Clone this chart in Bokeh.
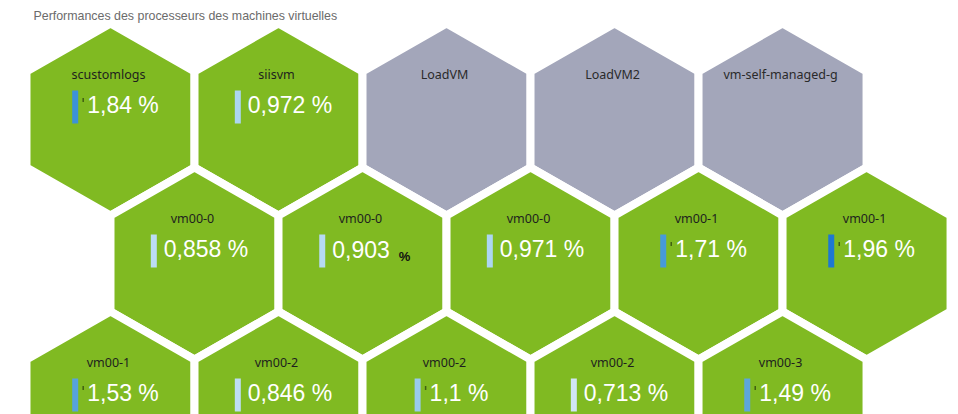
import numpy as np
from bokeh.plotting import figure
from bokeh.models import Range1d, ColumnDataSource, LinearColorMapper
from bokeh.transform import transform
from bokeh.util.hex import axial_to_cartesian
from bokeh.core.properties import value
from bokeh.embed import file_html
from bokeh.resources import INLINE

# ---------------- data ----------------
title = "Performances des processeurs des machines virtuelles"
names = ["scustomlogs", "siisvm", "LoadVM", "LoadVM2", "vm-self-managed-g",
         "vm00-0", "vm00-0", "vm00-0", "vm00-1", "vm00-1",
         "vm00-1", "vm00-2", "vm00-2", "vm00-2", "vm00-3"]
cpu = [1.84, 0.972, np.nan, np.nan, np.nan,
       0.858, 0.903, 0.971, 1.71, 1.96,
       1.53, 0.846, 1.1, 0.713, 1.49]
labels = ["1,84 %", "0,972 %", "", "", "",
          "0,858 %", "0,903", "0,971 %", "1,71 %", "1,96 %",
          "1,53 %", "0,846 %", "1,1 %", "0,713 %", "1,49 %"]
small_unit = [False, False, False, False, False,
              False, True, False, False, False,
              False, False, False, False, False]
q = [0, 1, 2, 3, 4, 0, 1, 2, 3, 4, -1, 0, 1, 2, 3]
r = [0, 0, 0, 0, 0, 1, 1, 1, 1, 1, 2, 2, 2, 2, 2]

# ---------------- layout ----------------
SIZE = 97
W, H = 958, 414
PX, PY = 0, 0              # page position of the figure
OX, OY = 110, 119          # page position of tile (0,0)
K = 144 / 145.5            # px per data unit vertically

GREEN = "#80ba22"
GRAY = "#a3a6ba"

x_range = Range1d(PX - OX, PX + W - OX)
y_range = Range1d((OY - (PY + H)) / K, (OY - PY) / K)

p = figure(width=W, height=H, x_range=x_range, y_range=y_range,
           output_backend="svg", toolbar_location=None,
           x_axis_location=None, y_axis_location=None,
           min_border=0, outline_line_color=None)
p.grid.visible = False
p.background_fill_color = "white"
p.border_fill_color = "white"

cpu_arr = np.array(cpu, dtype=float)
has_val = ~np.isnan(cpu_arr)
fills = [GREEN if h else GRAY for h in has_val]

tiles = ColumnDataSource(dict(q=q, r=r, fill=fills))
p.hex_tile(q="q", r="r", size=SIZE, orientation="pointytop", source=tiles,
           fill_color="fill", line_color="white", line_width=8,
           line_join="miter")

cx, cy = axial_to_cartesian(np.array(q), np.array(r), SIZE, "pointytop")

# name labels
name_col = ["#1e1e1e" if h else "#2a2a2a" for h in has_val]
p.text(x=cx - 2, y=cy + 45 / K, text=names, text_align="center",
       text_baseline="middle", text_font=value("Noto Sans"),
       text_font_size="12.5px", text_color=name_col)

# value group: bar + (tick) + value text
AW = {c: 0.556 for c in "0123456789"}
AW.update({",": 0.278, " ": 0.278, "%": 0.889})

def tw(s, fs):
    return sum(AW.get(c, 0.556) for c in s) * fs

FS = 23
bx, by, bv, tx, ty, tt = [], [], [], [], [], []
kx, ky = [], []
ux, uy = [], []
for i in range(len(names)):
    if not has_val[i]:
        continue
    tick = cpu_arr[i] >= 1.0
    gap = 9 if tick else 7
    wtxt = tw(labels[i], FS)
    extra = 20 if small_unit[i] else 0
    group = 6 + gap + wtxt + extra
    left = cx[i] + (2 if small_unit[i] else 5) - group / 2
    bx.append(left + 3)
    by.append(cy[i] + 12.5 / K)
    bv.append(cpu_arr[i])
    tx.append(left + 6 + gap)
    ty.append(cy[i] + 14.5 / K)
    tt.append(labels[i])
    if tick:
        kx.append(left + 6 + 5)
        ky.append(cy[i] + 19.5 / K)
    if small_unit[i]:
        ux.append(left + 6 + gap + wtxt + 9)
        uy.append(cy[i] + 7.5 / K)

# colour scale for bars
stops_v = [0.7, 1.0, 1.5, 1.85, 2.0]
stops_c = np.array([(210, 231, 246), (168, 212, 242), (90, 165, 220),
                    (59, 146, 216), (21, 112, 208)], dtype=float)
grid = np.linspace(0.7, 2.0, 256)
palette = ["#%02x%02x%02x" % tuple(int(round(np.interp(g, stops_v, stops_c[:, k])))
                                   for k in range(3)) for g in grid]
mapper = LinearColorMapper(palette=palette, low=0.7, high=2.0)

bars = ColumnDataSource(dict(x=bx, y=by, v=bv))
p.rect(x="x", y="y", width=6, height=33, width_units="screen",
       height_units="screen", source=bars,
       fill_color=transform("v", mapper), line_color=None)

p.rect(x=kx, y=ky, width=1.5, height=4, width_units="screen",
       height_units="screen", fill_color="#3f5f12", line_color=None)

p.text(x=tx, y=ty, text=tt, text_align="left", text_baseline="middle",
       text_font=value("Liberation Sans"), text_font_size=f"{FS}px",
       text_color="white")

p.text(x=ux, y=uy, text=["%"] * len(ux), text_align="left",
       text_baseline="middle", text_font=value("Liberation Sans"),
       text_font_size="13px", text_font_style="bold", text_color="#111111")

# title
p.text(x=[33 - OX], y=[(OY - 15) / K], text=[title], text_align="left",
       text_baseline="middle", text_font=value("Liberation Sans"),
       text_font_size="12.4px", text_color="#6b6b6b")

open("out.html", "w").write(file_html(p, INLINE))
